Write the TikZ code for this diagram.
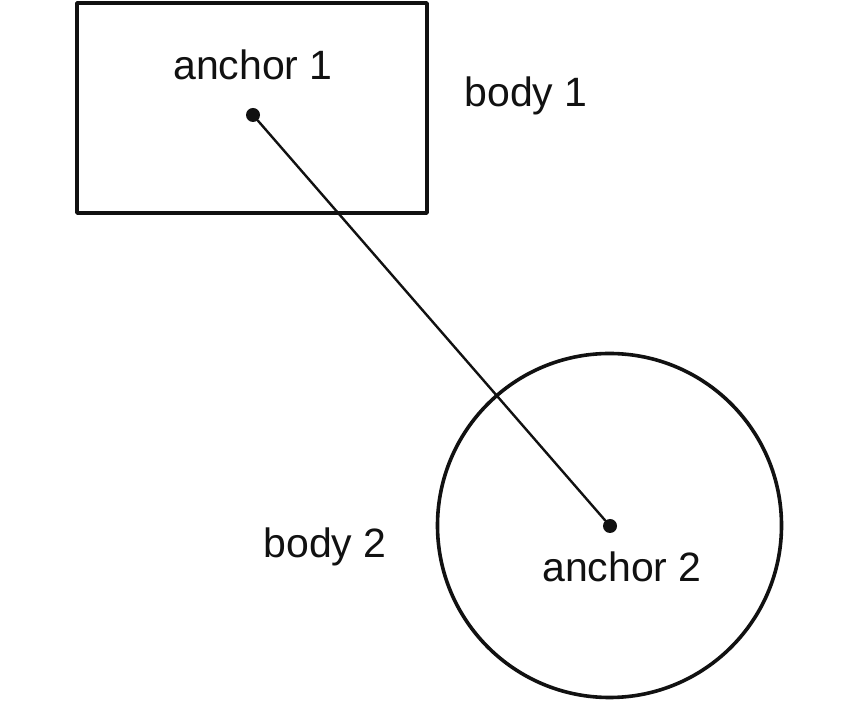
\documentclass[tikz,border=0pt]{standalone}
\usepackage{fontspec}
\setmainfont{Liberation Sans}
\usepackage{xcolor}
\usepackage{tikz}
\usetikzlibrary{positioning}
\definecolor{jtInk}{HTML}{111111}
\tikzset{
  jt diagram/.style={x=1pt, y=1pt, font=\fontsize{41}{48}\selectfont,
    text=jtInk, line cap=round, line join=round},
  jt body/.style={draw=jtInk, line width=3.6pt, inner sep=0pt},
  jt dot/.style={circle, fill=jtInk, inner sep=0pt, minimum size=14pt},
  jt link/.style={draw=jtInk, line width=2.4pt},
  jt label/.style={anchor=base, inner sep=0pt}
}
\begin{document}
\begin{tikzpicture}[jt diagram]
\useasboundingbox (0,0) rectangle (862,701);
\node[jt body, rectangle, minimum width=350pt, minimum height=210pt] (body1) at (252,593) {};
\node[jt body, circle, minimum size=344pt] (body2) at (609.5,175.5) {};
\node[jt dot] (anchor1) at (253,586) {};
\node[jt dot] (anchor2) at (610,175) {};
\draw[jt link] (anchor1) -- (anchor2);
\node[jt label] (anchor1 text) at (253,621) {anchor 1};
\node[jt label] (body1 text) at (526,594) {body 1};
\node[jt label] (body2 text) at (325,143) {body 2};
\node[jt label] (anchor2 text) at (622,119) {anchor 2};
\end{tikzpicture}
\end{document}
